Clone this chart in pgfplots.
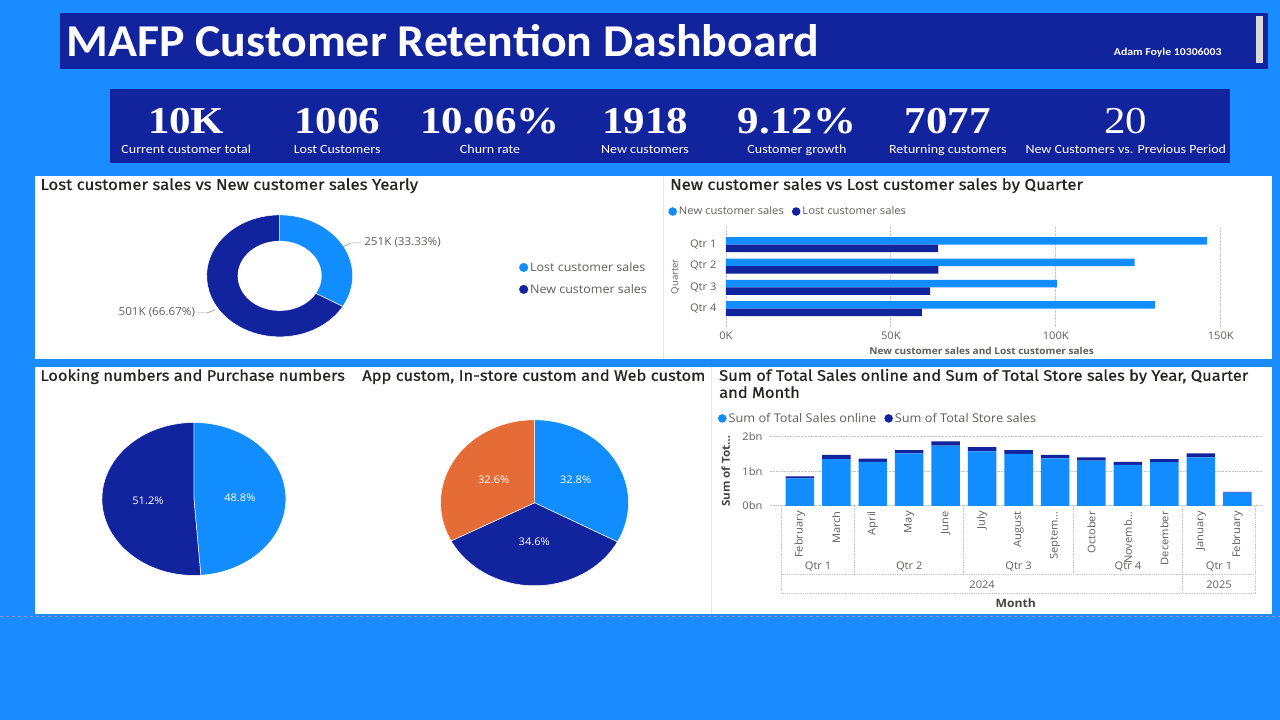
\documentclass[border=0pt]{standalone}
\usepackage{pgfplots}
\pgfplotsset{compat=1.18}
\usepackage{pgfplotstable}
\usepackage{fontspec}
\setmainfont{Open Sans}[FakeStretch=1.06]
\newfontfamily\dinfont{Fira Sans}[FakeStretch=1.08, FakeBold=0.6]
\newfontfamily\calfont{Carlito}[FakeStretch=1.12]
\newfontfamily\titlefont{Carlito}[FakeStretch=1.05]
\newfontfamily\kpifont{Liberation Serif}[FakeStretch=1.13]

\definecolor{bgblue}{HTML}{1A8CFF}
\definecolor{navy}{HTML}{12239E}
\definecolor{lblue}{HTML}{118DFF}
\definecolor{orng}{HTML}{E66C37}
\definecolor{ttl}{HTML}{252423}
\definecolor{lbl}{HTML}{605E5C}
\definecolor{grd}{HTML}{C8C6C4}
\definecolor{sep}{HTML}{D8E6F6}

\pgfplotsset{dotleg/.style={legend image code/.code={\fill[#1] (0pt,0pt) circle (4.3pt);}}}

% ---------- data ----------
\pgfplotstableread{
seg value
Lost 251
New 501
}\donuttable
\pgfplotstablegetelem{0}{value}\of\donuttable\edef\dL{\pgfplotsretval}
\pgfplotstablegetelem{1}{value}\of\donuttable\edef\dN{\pgfplotsretval}
\pgfmathsetmacro\dAng{90-360*(\dL/(\dL+\dN))}

\pgfplotstableread{
seg value
Looking 48.8
Purchase 51.2
}\pieonetable
\pgfplotstablegetelem{0}{value}\of\pieonetable\edef\pva{\pgfplotsretval}
\pgfplotstablegetelem{1}{value}\of\pieonetable\edef\pvb{\pgfplotsretval}
\pgfmathsetmacro\pFrac{\pva/(\pva+\pvb)}
\pgfmathsetmacro\pAng{90-360*\pFrac}
\pgfmathsetmacro\pMidA{90-180*\pFrac}
\pgfmathsetmacro\pMidB{-90-180*\pFrac}
\pgfmathsetmacro\pAx{0.5*cos(\pMidA)}\pgfmathsetmacro\pAy{0.5*sin(\pMidA)}
\pgfmathsetmacro\pBx{0.5*cos(\pMidB)}\pgfmathsetmacro\pBy{0.5*sin(\pMidB)}

\pgfplotstableread{
seg value
App 32.8
Instore 34.6
Web 32.6
}\pietwotable
\pgfplotstablegetelem{0}{value}\of\pietwotable\edef\qva{\pgfplotsretval}
\pgfplotstablegetelem{1}{value}\of\pietwotable\edef\qvb{\pgfplotsretval}
\pgfplotstablegetelem{2}{value}\of\pietwotable\edef\qvc{\pgfplotsretval}
\pgfmathsetmacro\qTot{\qva+\qvb+\qvc}
\pgfmathsetmacro\qAngA{90-360*(\qva/\qTot)}
\pgfmathsetmacro\qAngB{\qAngA-360*(\qvb/\qTot)}
\pgfmathsetmacro\qMidA{(90+\qAngA)/2}
\pgfmathsetmacro\qMidB{(\qAngA+\qAngB)/2}
\pgfmathsetmacro\qMidC{(\qAngB-270)/2}
\pgfmathsetmacro\qAx{0.51*cos(\qMidA)}\pgfmathsetmacro\qAy{0.53*sin(\qMidA)}
\pgfmathsetmacro\qBx{0.5*cos(\qMidB)}\pgfmathsetmacro\qBy{0.47*sin(\qMidB)}
\pgfmathsetmacro\qCx{0.51*cos(\qMidC)}\pgfmathsetmacro\qCy{0.53*sin(\qMidC)}

\pgfplotstableread{
y new lost
3 145.9 64.3
2 123.9 64.4
1 100.3 61.9
0 130.1 59.4
}\qtrtable

\pgfplotstableread{
x online store
0 0.79 0.06
1 1.35 0.12
2 1.27 0.09
3 1.51 0.10
4 1.74 0.12
5 1.57 0.12
6 1.50 0.11
7 1.37 0.10
8 1.30 0.10
9 1.18 0.09
10 1.26 0.09
11 1.40 0.11
12 0.38 0.02
}\monthtable

\newcommand{\slice}[5]{%
  \fill[#1, draw=white, line width=0.5pt] (axis cs:0,0) -- ++(#2:#4 and #5)
     arc[start angle=#2, end angle=#3, x radius=#4, y radius=#5] -- cycle;}

\begin{document}
\begin{tikzpicture}
% ---------- backgrounds ----------
\begin{scope}[x=1pt,y=-1pt]
\fill[bgblue] (0,0) rectangle (1280,720);
\fill[navy] (60,13) rectangle (1268,69);
\fill[gray!30] (1256,16) rectangle (1263,63);
\fill[navy] (110,89) rectangle (1230,163);
\fill[white] (35,176) rectangle (1272,359);
\draw[sep, line width=1pt] (663.5,176) -- (663.5,359);
\fill[white] (35,367) rectangle (1272,614);
\draw[sep, line width=1pt] (711.5,367) -- (711.5,614);
\draw[navy!50, dash pattern=on 3pt off 3pt, line width=0.6pt] (0,617) -- (1280,617);
\end{scope}

% ---------- donut ----------
\begin{axis}[at={(206.5pt,-337pt)}, anchor=south west, scale only axis,
  width=146pt, height=122pt, hide axis, clip=false,
  xmin=-1, xmax=1, ymin=-1, ymax=1,
  legend style={at={(axis description cs:2.14,0.63)}, anchor=north west,
    draw=none, fill=none, font=\fontsize{11.8}{14}\selectfont, text=lbl,
    legend cell align=left, row sep=7.5pt, inner sep=0pt}]
\slice{lblue}{90}{\dAng}{73pt}{61pt}
\slice{navy}{\dAng}{-270}{73pt}{61pt}
\fill[white] (axis cs:0,0) ellipse [x radius=42pt, y radius=35pt];
\addlegendimage{dotleg=lblue}\addlegendentry{Lost customer sales}
\addlegendimage{dotleg=navy}\addlegendentry{New customer sales}
\end{axis}

% ---------- pie 1 ----------
\begin{axis}[at={(101.7pt,-575.7pt)}, anchor=south west, scale only axis,
  width=184pt, height=153pt, hide axis, clip=false,
  xmin=-1, xmax=1, ymin=-1, ymax=1]
\slice{lblue}{90}{\pAng}{92pt}{76.5pt}
\slice{navy}{\pAng}{-270}{92pt}{76.5pt}
\node[text=white, font=\fontsize{10.5}{12}\selectfont] at (axis cs:\pAx,\pAy) {48.8\%};
\node[text=white, font=\fontsize{10.5}{12}\selectfont] at (axis cs:\pBx,\pBy) {51.2\%};
\end{axis}

% ---------- pie 2 ----------
\begin{axis}[at={(440.5pt,-586pt)}, anchor=south west, scale only axis,
  width=188pt, height=166pt, hide axis, clip=false,
  xmin=-1, xmax=1, ymin=-1, ymax=1]
\slice{lblue}{90}{\qAngA}{94pt}{83pt}
\slice{navy}{\qAngA}{\qAngB}{94pt}{83pt}
\slice{orng}{\qAngB}{-270}{94pt}{83pt}
\node[text=white, font=\fontsize{10.5}{12}\selectfont] at (axis cs:\qAx,\qAy) {32.8\%};
\node[text=white, font=\fontsize{10.5}{12}\selectfont] at (axis cs:\qBx,\qBy) {34.6\%};
\node[text=white, font=\fontsize{10.5}{12}\selectfont] at (axis cs:\qCx,\qCy) {32.6\%};
\end{axis}

% ---------- quarter bar chart ----------
\begin{axis}[at={(726pt,-327pt)}, anchor=south west, scale only axis,
  width=511.5pt, height=100.3pt,
  xbar, bar width=7.5pt,
  xmin=0, xmax=155, ymin=-0.85, ymax=3.85,
  ytick={0,1,2,3}, yticklabels={Qtr 4,Qtr 3,Qtr 2,Qtr 1},
  xtick={0,50,100,150}, xticklabel={\pgfmathprintnumber{\tick}K},
  /pgf/number format/assume math mode=true,
  axis line style={draw=none}, major tick length=0pt,
  xmajorgrids, grid style={densely dotted, grd, line width=0.8pt},
  tick label style={font=\fontsize{10.5}{12}\selectfont, text=lbl},
  yticklabel style={xshift=-6pt},
  xticklabel style={yshift=-2pt},
  xlabel={New customer sales and Lost customer sales},
  xlabel style={at={(axis description cs:0.5,-0.24)}, anchor=center,
    font=\bfseries\fontsize{9.5}{11}\selectfont, text=lbl},
  ylabel={Quarter},
  ylabel style={at={(axis description cs:-0.084,0.5)}, anchor=south, rotate=0,
    font=\fontsize{9}{11}\selectfont, text=lbl},
  legend style={at={(axis description cs:-0.113,1.22)}, anchor=north west,
    draw=none, fill=none, font=\fontsize{10.6}{12}\selectfont, text=lbl,
    legend columns=2, inner sep=0pt,
    /tikz/every even column/.append style={column sep=6pt}},
  clip=false]
\addplot[xbar, bar shift=3.75pt, fill=lblue, draw=none, dotleg=lblue]
  table[x=new, y=y] {\qtrtable};
\addlegendentry{New customer sales}
\addplot[xbar, bar shift=-3.75pt, fill=navy, draw=none, dotleg=navy]
  table[x=lost, y=y] {\qtrtable};
\addlegendentry{Lost customer sales}
\end{axis}

% ---------- monthly stacked chart ----------
\begin{axis}[at={(770pt,-506pt)}, anchor=south west, scale only axis,
  width=492pt, height=69.3pt,
  ybar stacked, bar width=28.5pt,
  xmin=-0.82, xmax=12.67, ymin=0, ymax=2,
  xtick={0,...,12},
  xticklabels={February,March,April,May,June,July,August,Septem…,October,Novemb…,December,January,February},
  ytick={0,1,2}, yticklabel={\pgfmathprintnumber{\tick}bn},
  /pgf/number format/assume math mode=true,
  axis line style={draw=none}, major tick length=0pt,
  ymajorgrids, grid style={densely dotted, grd, line width=0.8pt},
  tick label style={font=\fontsize{10.5}{12}\selectfont, text=lbl},
  xticklabel style={rotate=90, anchor=east, yshift=0pt, xshift=-2pt},
  yticklabel style={xshift=-4pt},
  xlabel={Month},
  xlabel style={at={(axis description cs:0.5,-1.40)}, anchor=center,
    font=\bfseries\fontsize{11.5}{13}\selectfont, text=ttl!85},
  ylabel={Sum of Tot…},
  ylabel style={at={(axis description cs:-0.074,0.5)}, anchor=south, rotate=0,
    font=\bfseries\fontsize{11}{13}\selectfont, text=ttl!85},
  legend style={at={(axis description cs:-0.106,1.37)}, anchor=north west,
    draw=none, fill=none, font=\fontsize{12}{14}\selectfont, text=lbl,
    legend columns=2, inner sep=0pt,
    /tikz/every even column/.append style={column sep=6pt}},
  clip=false]
\addplot[fill=lblue, draw=none, dotleg=lblue] table[x=x, y=online] {\monthtable};
\addlegendentry{Sum of Total Sales online}
\addplot[fill=navy, draw=none, dotleg=navy] table[x=x, y=store] {\monthtable};
\addlegendentry{Sum of Total Store sales}
% hierarchy separators
\pgfplotsinvokeforeach{1.5,4.5,7.5}{\draw[densely dotted, grd, line width=0.8pt] (axis cs:#1,0) -- (axis cs:#1,-1.99);}
\pgfplotsinvokeforeach{-0.5,10.5,12.5}{\draw[densely dotted, grd, line width=0.8pt] (axis cs:#1,0) -- (axis cs:#1,-2.54);}
\draw[densely dotted, grd, line width=0.8pt] (axis cs:-0.5,-1.99) -- (axis cs:12.5,-1.99);
\draw[densely dotted, grd, line width=0.8pt] (axis cs:-0.5,-2.54) -- (axis cs:12.5,-2.54);
\node[text=lbl, font=\fontsize{10.5}{12}\selectfont] at (axis cs:0.5,-1.75) {Qtr 1};
\node[text=lbl, font=\fontsize{10.5}{12}\selectfont] at (axis cs:3,-1.75) {Qtr 2};
\node[text=lbl, font=\fontsize{10.5}{12}\selectfont] at (axis cs:6,-1.75) {Qtr 3};
\node[text=lbl, font=\fontsize{10.5}{12}\selectfont] at (axis cs:9,-1.75) {Qtr 4};
\node[text=lbl, font=\fontsize{10.5}{12}\selectfont] at (axis cs:11.5,-1.75) {Qtr 1};
\node[text=lbl, font=\fontsize{10.5}{12}\selectfont] at (axis cs:5,-2.28) {2024};
\node[text=lbl, font=\fontsize{10.5}{12}\selectfont] at (axis cs:11.5,-2.28) {2025};
\end{axis}

% ---------- texts ----------
\begin{scope}[x=1pt,y=-1pt]
\node[anchor=base west, text=white, font=\titlefont\bfseries\fontsize{45.6}{50}\selectfont, inner sep=0pt] at (66,57) {MAFP Customer Retention Dashboard};
\node[anchor=base east, text=white, font=\calfont\bfseries\fontsize{10.5}{12}\selectfont, inner sep=0pt] at (1222,56) {Adam Foyle 10306003};
% KPIs
\foreach \cx/\v/\l in {186/10K/Current customer total, 337/1006/Lost Customers, 490/10.06\%/Churn rate, 645/1918/New customers, 797/9.12\%/Customer growth, 948/7077/Returning customers}{
  \node[anchor=base, text=white, font=\kpifont\bfseries\fontsize{38}{42}\selectfont, inner sep=0pt] at (\cx,134) {\v};
  \node[anchor=base, text=white, font=\calfont\fontsize{12.5}{14}\selectfont, inner sep=0pt] at (\cx,154) {\l};
}
\node[anchor=base, text=white, font=\kpifont\fontsize{38}{42}\selectfont, inner sep=0pt] at (1126,134) {20};
\node[anchor=base, text=white, font=\calfont\fontsize{12.5}{14}\selectfont, inner sep=0pt] at (1126,154) {New Customers vs. Previous Period};
% panel titles
\node[anchor=base west, text=ttl, font=\dinfont\fontsize{15.6}{17}\selectfont, inner sep=0pt] at (40,190) {Lost customer sales vs New customer sales Yearly};
\node[anchor=base west, text=ttl, font=\dinfont\fontsize{15.6}{17}\selectfont, inner sep=0pt] at (670,190) {New customer sales vs Lost customer sales by Quarter};
\node[anchor=base west, text=ttl, font=\dinfont\fontsize{15.3}{17}\selectfont, inner sep=0pt] at (40,381) {Looking numbers and Purchase numbers};
\node[anchor=base west, text=ttl, font=\dinfont\fontsize{15.3}{17}\selectfont, inner sep=0pt] at (362,381) {App custom, In-store custom and Web custom};
\node[anchor=base west, text=ttl, font=\dinfont\fontsize{15.3}{17}\selectfont, inner sep=0pt] at (719,381) {Sum of Total Sales online and Sum of Total Store sales by Year, Quarter};
\node[anchor=base west, text=ttl, font=\dinfont\fontsize{15.3}{17}\selectfont, inner sep=0pt] at (719,398) {and Month};
% donut data labels
\draw[lbl!60, line width=0.7pt] (343,247) -- (351,243) -- (361,243);
\node[anchor=west, text=lbl, font=\fontsize{11}{12}\selectfont, inner sep=0pt] at (364,242.5) {251K (33.33\%)};
\draw[lbl!60, line width=0.7pt] (215,310) -- (207,313) -- (197,313);
\node[anchor=east, text=lbl, font=\fontsize{11}{12}\selectfont, inner sep=0pt] at (195,312.5) {501K (66.67\%)};
\end{scope}
\end{tikzpicture}
\end{document}
